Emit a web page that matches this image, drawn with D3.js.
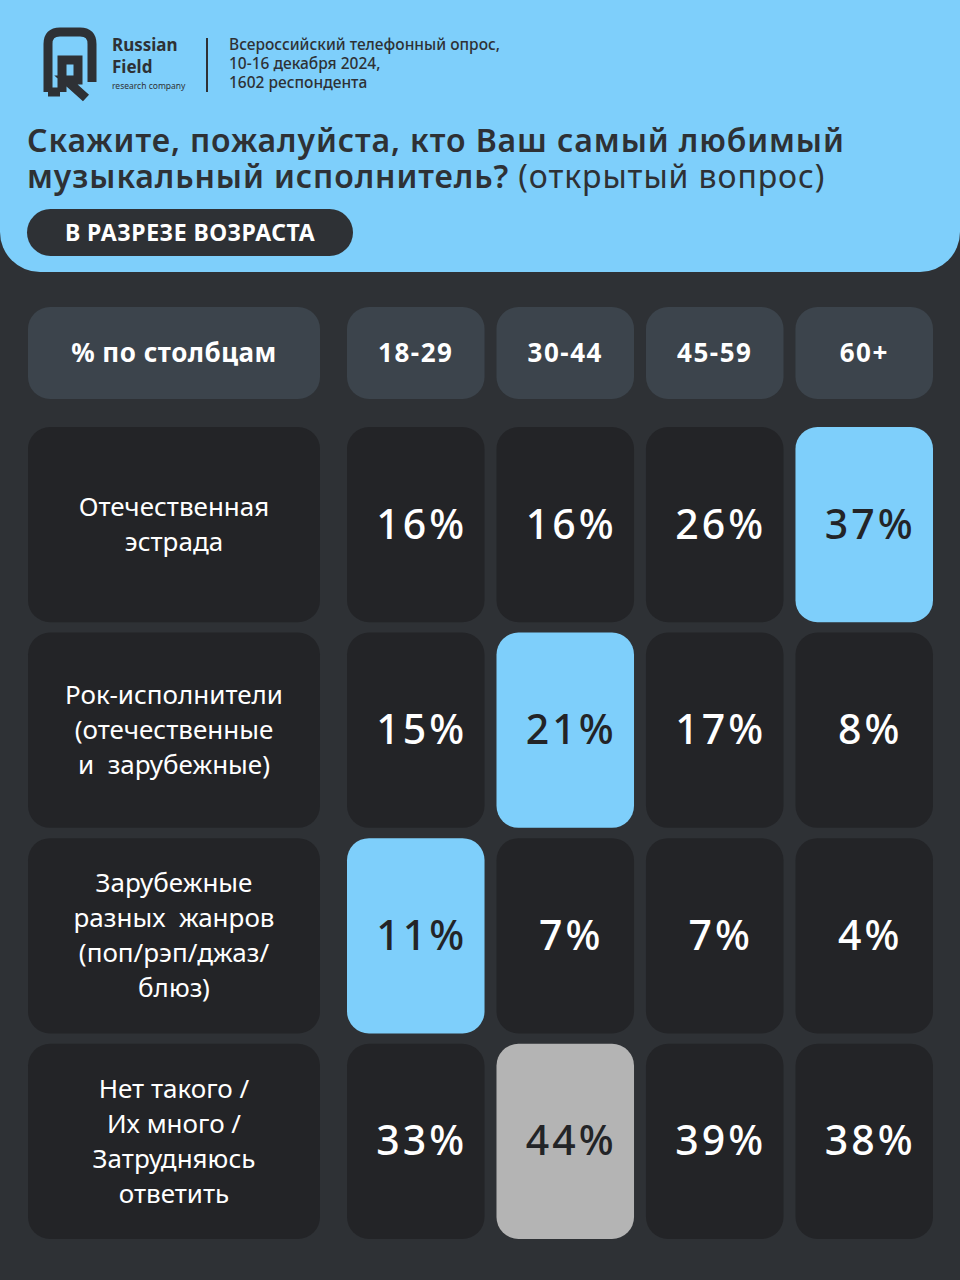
<!DOCTYPE html><html><head><meta charset="utf-8"><script src="https://cdn.jsdelivr.net/npm/d3@7"></script>
<style>body{margin:0;background:#2e3135}</style></head><body><script>
const ages=["18-29","30-44","45-59","60+"];
const categories=[["Отечественная","эстрада"],["Рок-исполнители","(отечественные","и  зарубежные)"],["Зарубежные","разных  жанров","(поп/рэп/джаз/","блюз)"],["Нет такого /","Их много /","Затрудняюсь","ответить"]];
const values=[[16,16,26,37],[15,21,17,8],[11,7,7,4],[33,44,39,38]];
const highlight=[[0,0,0,1],[0,1,0,0],[1,0,0,0],[0,2,0,0]];
const W=960,H=1280,blue="#7ecffb";
const svg=d3.select("body").append("svg").attr("width",W).attr("height",H).style("font-family","'Noto Sans',sans-serif");
svg.append("rect").attr("width",W).attr("height",H).attr("fill","#2e3135");
svg.append("path").attr("d",`M0,0H${W}V232A40,40 0 0 1 ${W-40},272H40A40,40 0 0 1 0,232Z`).attr("fill",blue);
const lg=svg.append("g").attr("fill","none").attr("stroke","#2e3135").attr("stroke-width",9);
lg.append("path").attr("d","M48,92 V44 Q48,32 60,32 H80 Q92,32 92,44 V82");
lg.append("path").attr("d","M48,92 H60 M62,92 V60 H78 V80 H66 L86,98");
svg.append("text").attr("x",112).attr("y",51).text("Russian").attr("font-size",17).attr("font-weight",700).attr("fill","#2e3135");
svg.append("text").attr("x",112).attr("y",73).text("Field").attr("font-size",17).attr("font-weight",700).attr("fill","#2e3135");
svg.append("text").attr("x",112).attr("y",89).text("research company").attr("font-size",8.5).attr("fill","#2e3135");
svg.append("line").attr("x1",207).attr("x2",207).attr("y1",38).attr("y2",92).attr("stroke","#2e3135").attr("stroke-width",2);
svg.append("text").attr("font-size",15.5).attr("font-weight",500).attr("fill","#2e3135").selectAll("tspan")
 .data(["Всероссийский телефонный опрос,","10-16 декабря 2024,","1602 респондента"]).join("tspan").attr("x",229).attr("y",(d,i)=>50+i*19).text(d=>d);
const t=svg.append("text").attr("font-size",32).attr("fill","#2e3135").attr("letter-spacing",0.9);
t.append("tspan").attr("x",27).attr("y",152).attr("font-weight",600).text("Скажите, пожалуйста, кто Ваш самый любимый");
t.append("tspan").attr("x",27).attr("y",188).attr("font-weight",600).text("музыкальный исполнитель? ");
t.append("tspan").attr("font-weight",400).text("(открытый вопрос)");
svg.append("rect").attr("x",27).attr("y",209).attr("width",326).attr("height",47).attr("rx",23.5).attr("fill","#2e3135");
svg.append("text").attr("x",190).attr("y",241).attr("text-anchor","middle").text("В РАЗРЕЗЕ ВОЗРАСТА").attr("font-size",23).attr("font-weight",700).attr("fill","#fff").attr("letter-spacing",0.5);
const x=d3.scaleBand().domain(ages).range([347,933]).paddingInner(0.08);
const y=d3.scaleBand().domain(d3.range(categories.length)).range([427,1239]).paddingInner(0.05);
const hy=307,hh=92;
svg.append("rect").attr("x",28).attr("y",hy).attr("width",292).attr("height",hh).attr("rx",22).attr("fill","#3c444c");
svg.append("text").attr("x",174).attr("y",hy+hh/2+9).attr("text-anchor","middle").text("% по столбцам").attr("font-size",26).attr("font-weight",700).attr("fill","#fff").attr("letter-spacing",0.5);
ages.forEach(a=>{svg.append("rect").attr("x",x(a)).attr("y",hy).attr("width",x.bandwidth()).attr("height",hh).attr("rx",22).attr("fill","#3c444c");
svg.append("text").attr("x",x(a)+x.bandwidth()/2).attr("y",hy+hh/2+9).attr("text-anchor","middle").text(a).attr("font-size",26).attr("font-weight",700).attr("fill","#fff").attr("letter-spacing",1.5);});
categories.forEach((c,i)=>{
 svg.append("rect").attr("x",28).attr("y",y(i)).attr("width",292).attr("height",y.bandwidth()).attr("rx",22).attr("fill","#232427");
 const lh=35,y0=y(i)+y.bandwidth()/2-(c.length-1)*lh/2+9;
 svg.append("text").attr("font-size",26).attr("fill","#fff").attr("text-anchor","middle").style("white-space","pre").selectAll("tspan").data(c).join("tspan").attr("x",174).attr("y",(d,j)=>y0+j*lh).text(d=>d);
 ages.forEach((a,k)=>{const h=highlight[i][k];
  svg.append("rect").attr("x",x(a)).attr("y",y(i)).attr("width",x.bandwidth()).attr("height",y.bandwidth()).attr("rx",22).attr("fill",h==1?blue:h==2?"#b4b4b4":"#232427");
  svg.append("text").attr("x",x(a)+x.bandwidth()/2+6).attr("y",y(i)+y.bandwidth()/2+14).attr("text-anchor","middle").text(values[i][k]+"%").attr("font-size",41).attr("font-weight",500).attr("fill",h?"#232427":"#fff").attr("letter-spacing",3);
 });
});
</script></body></html>
